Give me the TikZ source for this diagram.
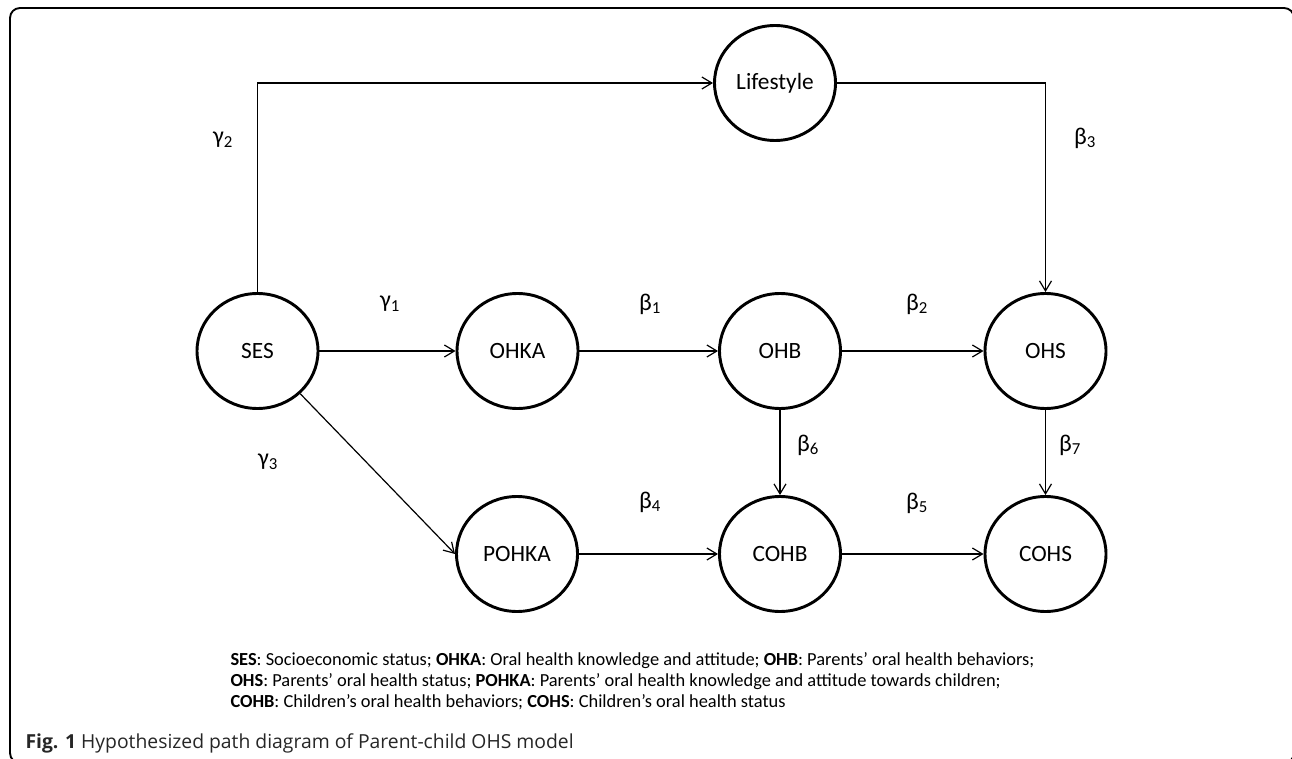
\documentclass[tikz,border=0pt]{standalone}
\usepackage{fontspec}
\setmainfont{Carlito}
\newfontfamily\capfont{Open Sans}
\usetikzlibrary{shapes.geometric,arrows.meta}

\tikzset{every picture/.style={line width=0.75pt}}
\tikzset{
  latent/.style={ellipse, draw, line width=2.2pt, minimum width=90.75pt, minimum height=86.25pt, inner sep=0pt, font=\fontsize{17.5}{20}\selectfont},
  link/.style={-{Straight Barb[length=7.5pt,width=9pt]}, line width=0.9pt},
  coef/.style={inner sep=0.75pt, font=\fontsize{18}{21}\selectfont},
  keyline/.style={anchor=base west, inner sep=0pt, font=\fontsize{13.8}{16}\selectfont},
}

\begin{document}
\begin{tikzpicture}[x=0.75pt,y=0.75pt,yscale=-1,xscale=1]
	\useasboundingbox (0,0) rectangle (1292,759);
	\clip (0,0) rectangle (1292,759);
	\draw [line width=1.4pt, rounded corners=7.5pt] (10,8) rectangle (1294,763);

	% latent variables
	\node (ses) at (257.5,351) [latent] {SES};
	\node (ohka) at (517.5,351) [latent] {OHKA};
	\node (ohb) at (780,351) [latent] {OHB};
	\node (ohs) at (1045.5,351) [latent] {OHS};
	\node (life) at (775,83) [latent] {Lifestyle};
	\node (pohka) at (517,554) [latent] {POHKA};
	\node (cohb) at (780,554) [latent] {COHB};
	\node (cohs) at (1045.5,554) [latent] {COHS};

	% paths
	\draw [link] (ses.north) |- (life);
	\draw [link] (life) -| (ohs);
	\draw [link] (ses) -- (ohka);
	\draw [link] (ohka) -- (ohb);
	\draw [link] (ohb) -- (ohs);
	\draw [link] (ses.-45) -- (pohka.west);
	\draw [link] (pohka) -- (cohb);
	\draw [link] (cohb) -- (cohs);
	\draw [link] (ohb) -- (cohb);
	\draw [link] (ohs) -- (cohs);

	% coefficients
	\draw (223,140) node (g2) [coef] {γ\textsubscript{2}};
	\draw (1085,138) node (b3) [coef] {β\textsubscript{3}};
	\draw (390,304) node (g1) [coef] {γ\textsubscript{1}};
	\draw (650,304) node (b1) [coef] {β\textsubscript{1}};
	\draw (917,304) node (b2) [coef] {β\textsubscript{2}};
	\draw (808,445) node (b6) [coef] {β\textsubscript{6}};
	\draw (1070,445) node (b7) [coef] {β\textsubscript{7}};
	\draw (268,462) node (g3) [coef] {γ\textsubscript{3}};
	\draw (650,502) node (b4) [coef] {β\textsubscript{4}};
	\draw (917,503) node (b5) [coef] {β\textsubscript{5}};

	% key and caption
	\draw (230,665) node (key1) [keyline] {\textbf{SES}: Socioeconomic status; \textbf{OHKA}: Oral health knowledge and attitude; \textbf{OHB}: Parents’ oral health behaviors;};
	\draw (230,686) node (key2) [keyline] {\textbf{OHS}: Parents’ oral health status; \textbf{POHKA}: Parents’ oral health knowledge and attitude towards children;};
	\draw (230,707) node (key3) [keyline] {\textbf{COHB}: Children’s oral health behaviors; \textbf{COHS}: Children’s oral health status};
	\draw (25,748) node (caption) [anchor=base west, inner sep=0pt, font=\capfont\fontsize{14.5}{18}\selectfont, text=black!85] {\textbf{Fig. 1} Hypothesized path diagram of Parent-child OHS model};
\end{tikzpicture}
\end{document}
